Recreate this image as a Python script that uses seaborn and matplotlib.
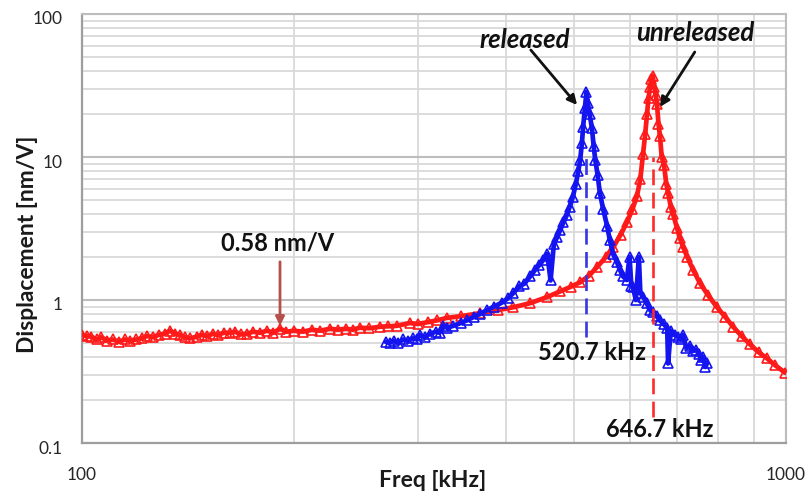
import numpy as np
import pandas as pd
import matplotlib
matplotlib.use("Agg")
import matplotlib.pyplot as plt
import matplotlib.transforms as mtransforms
from matplotlib.ticker import LogLocator, NullFormatter
import seaborn as sns

# ---------------- data ----------------
red_freq = [100, 101.5, 103, 105, 106.5, 108.5, 110.5, 113, 115, 117, 119.5, 121.5,
            123.7, 126, 128.5, 131, 133.4, 135.5, 137.8, 140, 142.5, 145.7, 148, 150.5,
            153.5, 156, 159, 162.3, 165, 168, 171.6, 175, 179, 183.2, 187, 191.1, 195,
            200, 206, 212, 218, 225, 231, 237, 242.4, 248, 256, 265, 272, 280, 292, 300,
            310, 319, 330, 345, 368, 390, 410, 433, 458, 478, 495, 510, 525, 539, 555,
            568, 582, 594.5, 605, 614, 621, 626.5, 631, 634.7, 638, 641, 644, 646.7, 650,
            653, 655.8, 659, 662.2, 666, 671, 676, 680, 686, 691, 700, 707, 714, 724, 738,
            755, 775, 798, 820, 841, 865, 889, 915, 940, 965, 997]
red_disp = [0.57, 0.56, 0.555, 0.53, 0.55, 0.52, 0.53, 0.51, 0.53, 0.52, 0.53, 0.54,
            0.56, 0.55, 0.57, 0.58, 0.61, 0.58, 0.57, 0.55, 0.54, 0.555, 0.57, 0.56,
            0.58, 0.57, 0.59, 0.59, 0.60, 0.575, 0.58, 0.60, 0.59, 0.61, 0.59, 0.63, 0.60,
            0.61, 0.60, 0.62, 0.61, 0.63, 0.62, 0.63, 0.62, 0.64, 0.635, 0.65, 0.655, 0.66,
            0.69, 0.68, 0.70, 0.72, 0.75, 0.77, 0.81, 0.85, 0.89, 0.95, 1.05, 1.15, 1.24,
            1.33, 1.48, 1.70, 2.0, 2.33, 2.85, 3.5, 4.3, 5.3, 7.0, 10.5, 14.5, 20, 26, 31,
            35, 37, 31, 27, 23.5, 17, 14, 10, 8.8, 6.5, 5.6, 4.5, 4.0, 3.2, 2.7, 2.35, 2.0,
            1.62, 1.31, 1.08, 0.89, 0.76, 0.65, 0.56, 0.49, 0.43, 0.39, 0.35, 0.31]

blue_freq = [270, 273.5, 277, 281, 286, 290, 295, 299, 302, 307, 312, 318, 322, 326,
             330, 337, 345, 352, 360, 368, 376, 385, 395, 403, 410, 418, 425, 433, 440,
             446, 452, 458, 463, 468, 473, 478, 483, 488, 493, 498, 503, 507, 510, 513,
             515, 518, 520.7, 523, 526, 530, 533, 536, 540, 544, 550, 557, 562, 568, 575,
             581, 587, 594, 599.5, 603, 606, 612, 618, 621, 627, 634, 641, 648, 655, 662,
             670, 678, 680, 686, 695, 703, 710, 714, 722, 730, 738, 746, 752, 758, 763,
             768, 772]
blue_disp = [0.51, 0.50, 0.52, 0.50, 0.53, 0.52, 0.54, 0.53, 0.57, 0.55, 0.58, 0.60,
             0.59, 0.66, 0.64, 0.66, 0.69, 0.72, 0.76, 0.80, 0.85, 0.90, 0.96, 1.03, 1.12,
             1.25, 1.30, 1.46, 1.62, 1.75, 1.90, 2.1, 1.37, 2.45, 2.75, 3.1, 3.5, 3.9, 4.5,
             5.25, 6.5, 8.0, 9.5, 12.5, 16.2, 22, 28.5, 24, 20, 16, 12, 9.5, 7.5, 5.6, 4.3,
             3.3, 2.63, 2.1, 1.85, 1.62, 1.46, 1.38, 2.0, 1.25, 1.23, 1.0, 2.0, 1.12, 1.05,
             0.95, 0.85, 0.82, 0.77, 0.72, 0.68, 0.64, 0.36, 0.61, 0.57, 0.55, 0.53, 0.57,
             0.46, 0.48, 0.44, 0.45, 0.42, 0.38, 0.40, 0.34, 0.36]

peak_released = 520.7
peak_unreleased = 646.7
flat_level_label = "0.58 nm/V"
x_ticks = [100, 1000]
x_tick_labels = ["100", "1000"]
y_ticks = [0.1, 1, 10, 100]
y_tick_labels = ["0.1", "1", "10", "100"]

# ---------------- style ----------------
sns.set_theme(style="white")
plt.rcParams['font.family'] = ['Lato', 'DejaVu Sans']

W, H = 809, 493
fig = plt.figure(figsize=(W / 100, H / 100), dpi=100)
ax = fig.add_axes([82 / W, 50 / H, 704 / W, 429 / H])

red_df = pd.DataFrame({"freq": red_freq, "disp": red_disp})
blue_df = pd.DataFrame({"freq": blue_freq, "disp": blue_disp})

RED = "#ff1a1a"
BLUE = "#1414f0"

ax.set_xscale("log")
ax.set_yscale("log")

sns.lineplot(data=red_df, x="freq", y="disp", ax=ax, color=RED, sort=False,
             estimator=None, lw=3.4, marker="^", markersize=6.5, mfc="none",
             mec=RED, mew=1.2, legend=False, zorder=3)
sns.lineplot(data=blue_df, x="freq", y="disp", ax=ax, color=BLUE, sort=False,
             estimator=None, lw=3.4, marker="^", markersize=6.5, mfc="none",
             mec=BLUE, mew=1.2, legend=False, zorder=4)

# resonance markers
ax.vlines(peak_released, 0.55, 10, colors="#3535e6", linestyles=(0, (6, 2.8)), lw=1.9, zorder=5)
ax.vlines(peak_unreleased, 0.152, 10, colors="#ff2a2a", linestyles=(0, (6, 2.8)), lw=1.9, zorder=5)

ax.set_xlim(100, 1000)
ax.set_ylim(0.1, 100)

# grid
ax.xaxis.set_minor_locator(LogLocator(base=10, subs=np.arange(2, 10)))
ax.yaxis.set_minor_locator(LogLocator(base=10, subs=np.arange(2, 10)))
ax.xaxis.set_minor_formatter(NullFormatter())
ax.yaxis.set_minor_formatter(NullFormatter())
ax.grid(which="major", color="#bdbdbd", lw=1.5, zorder=0)
ax.grid(which="minor", color="#d9d9d9", lw=1.3, zorder=0)
ax.set_axisbelow(True)

ax.set_xticks(x_ticks)
ax.set_xticklabels(x_tick_labels)
ax.set_yticks(y_ticks)
ax.set_yticklabels(y_tick_labels)
ax.tick_params(axis="both", which="both", length=0, labelsize=12.5, colors="#262626")
ax.tick_params(axis="x", pad=17)
ax.tick_params(axis="y", pad=14)
offset = mtransforms.ScaledTranslation(0, -4 / 100, fig.dpi_scale_trans)
for lab in ax.get_yticklabels():
    lab.set_transform(lab.get_transform() + offset)

for side in ["left", "bottom"]:
    ax.spines[side].set_color("#9e9e9e")
    ax.spines[side].set_linewidth(1.6)
for side in ["top", "right"]:
    ax.spines[side].set_color("#bdbdbd")
    ax.spines[side].set_linewidth(1.5)

ax.set_xlabel("Freq [kHz]", fontsize=16.5, fontweight="bold", color="#1a1a1a", va="center")
ax.xaxis.set_label_coords(0.4986, -0.088)
ax.set_ylabel("Displacement [nm/V]", fontsize=16.5, fontweight="bold", color="#1a1a1a", va="center")
ax.yaxis.set_label_coords(-0.078, 0.464)

# annotations
ax.text(425.8, 65.8, "released", fontsize=18.5, fontweight="bold", fontstyle="italic",
        ha="center", va="center", color="#111111")
ax.annotate("", xy=(505, 23.1), xytext=(434, 56),
            arrowprops=dict(arrowstyle="-|>", color="#111111", lw=2, mutation_scale=14,
                            shrinkA=0, shrinkB=0))
ax.text(742.3, 73.6, "unreleased", fontsize=18.5, fontweight="bold", fontstyle="italic",
        ha="center", va="center", color="#111111")
ax.annotate("", xy=(662.2, 22.4), xytext=(742, 54.2),
            arrowprops=dict(arrowstyle="-|>", color="#111111", lw=2, mutation_scale=14,
                            shrinkA=0, shrinkB=0))
ax.text(189.8, 2.5, flat_level_label, fontsize=17, fontweight="bold",
        ha="center", va="center", color="#111111")
ax.annotate("", xy=(191.1, 0.66), xytext=(191.1, 1.85),
            arrowprops=dict(arrowstyle="-|>", color="#b5504c", lw=2, mutation_scale=13,
                            shrinkA=0, shrinkB=0))
ax.text(530.3, 0.426, f"{peak_released} kHz", fontsize=17, fontweight="bold",
        ha="center", va="center", color="#111111", zorder=6)
ax.text(662.2, 0.125, f"{peak_unreleased} kHz", fontsize=17, fontweight="bold",
        ha="center", va="center", color="#111111", zorder=6)

fig.savefig("out.png", dpi=100, facecolor="white")
